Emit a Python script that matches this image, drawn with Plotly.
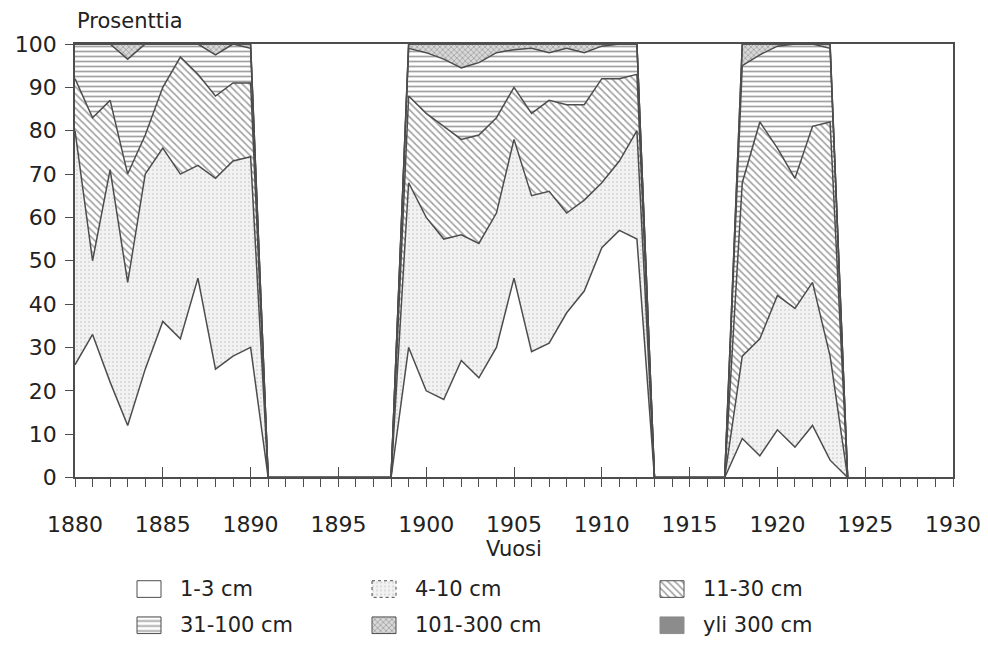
import plotly.graph_objects as go

# Share of each size class (%) per year; years without data are zero
years = list(range(1880, 1925))

cm_1_3 = [26, 33, 22, 12, 25, 36, 32, 46, 25, 28, 30,            # 1880-1890
          0, 0, 0, 0, 0, 0, 0, 0,                                # 1891-1898
          30, 20, 18, 27, 23, 30, 46, 29, 31, 38, 43, 53, 57, 55,  # 1899-1912
          0, 0, 0, 0, 0,                                         # 1913-1917
          9, 5, 11, 7, 12, 4,                                    # 1918-1923
          0]                                                     # 1924
cm_4_10 = [54, 17, 49, 33, 45, 40, 38, 26, 44, 45, 44,
           0, 0, 0, 0, 0, 0, 0, 0,
           38, 40, 37, 29, 31, 31, 32, 36, 35, 23, 21, 15, 16, 25,
           0, 0, 0, 0, 0,
           19, 27, 31, 32, 33, 24,
           0]
cm_11_30 = [12, 33, 16, 25, 9, 14, 27, 21, 19, 18, 17,
            0, 0, 0, 0, 0, 0, 0, 0,
            20, 24, 26, 22, 25, 22, 12, 19, 21, 25, 22, 24, 19, 13,
            0, 0, 0, 0, 0,
            40, 50, 34, 30, 36, 54,
            0]
cm_31_100 = [8, 17, 13, 26.5, 21, 10, 3, 7, 9.5, 9, 8,
             0, 0, 0, 0, 0, 0, 0, 0,
             11, 14, 15.5, 16.5, 16.7, 15, 8.7, 15, 11, 13, 12, 7.5, 8, 7,
             0, 0, 0, 0, 0,
             27, 15.5, 23.5, 31, 19, 17,
             0]
cm_101_300 = [0, 0, 0, 3.5, 0, 0, 0, 0, 2.5, 0, 1,
              0, 0, 0, 0, 0, 0, 0, 0,
              1, 2, 3.5, 5.5, 4.3, 2, 1.3, 1, 2, 1, 2, 0.5, 0, 0,
              0, 0, 0, 0, 0,
              5, 2.5, 0.5, 0, 0, 1,
              0]
cm_over_300 = [0] * len(years)

class_labels = ["1-3 cm", "4-10 cm", "11-30 cm", "31-100 cm", "101-300 cm", "yli 300 cm"]
class_values = [cm_1_3, cm_4_10, cm_11_30, cm_31_100, cm_101_300, cm_over_300]

x_ticks = list(range(1880, 1931, 5))
y_ticks = list(range(0, 101, 10))

FONT = "DejaVu Sans"
INK = "#222222"
LINE = "#4d4d4d"

# fill style for each class
fills = [
    dict(shape="", bgcolor="white", fgcolor="white"),
    dict(shape=".", fgcolor="#b5b5b5", bgcolor="#f2f2f2", size=4, solidity=0.18),
    dict(shape="\\", fgcolor="#444444", bgcolor="white", size=5, solidity=0.34),
    dict(shape="-", fgcolor="#444444", bgcolor="white", size=5, solidity=0.34),
    dict(shape="x", fgcolor="#4a4a4a", bgcolor="#d8d8d8", size=4, solidity=0.3),
    dict(shape="", bgcolor="#8c8c8c", fgcolor="#8c8c8c"),
]
solid_fill = ["white", None, None, None, None, "#8c8c8c"]

fig = go.Figure()

for label, vals, fp, sf in zip(class_labels, class_values, fills, solid_fill):
    kw = dict(fillpattern=fp) if fp["shape"] else dict(fillcolor=sf)
    fig.add_trace(go.Scatter(
        x=years, y=vals, name=label, stackgroup="one", mode="lines",
        line=dict(color=LINE, width=1.5), hoverinfo="x+y+name", **kw))

# carrier trace so the overlay axis with the long year ticks is drawn
fig.add_trace(go.Scatter(x=[1880, 1930], y=[None, None], xaxis="x2", yaxis="y",
                         showlegend=False, hoverinfo="skip", mode="lines"))

# legend drawn as swatches in its own small axes below the chart
leg_cols = [137, 372, 660]
leg_rows = [601, 638]
sw_w, sw_h = 24, 17
annotations = []
for i, (label, fp, sf) in enumerate(zip(class_labels, fills, solid_fill)):
    cx = leg_cols[i % 3]
    cy = leg_rows[i // 3]
    x0, x1 = cx, cx + sw_w
    y0, y1 = cy - sw_h / 2, cy + sw_h / 2
    kw = dict(fillpattern=fp) if fp["shape"] else dict(fillcolor=sf)
    border = LINE if i != 5 else "#8c8c8c"
    fig.add_trace(go.Scatter(
        x=[x0, x1, x1, x0, x0], y=[y0, y0, y1, y1, y0], fill="toself",
        mode="lines", line=dict(color=border, width=1,
                                dash="dot" if i == 1 else "solid"),
        xaxis="x3", yaxis="y3", showlegend=False, hoverinfo="skip", **kw))
    annotations.append(dict(x=x1 + 17, y=cy, xref="x3", yref="y3", text=label,
                            showarrow=False, xanchor="left", yanchor="middle",
                            font=dict(family=FONT, size=21, color=INK)))

annotations += [
    dict(x=0, y=1.0396, xref="paper", yref="paper", text="Prosenttia",
         showarrow=False, xanchor="left", yanchor="middle",
         font=dict(family=FONT, size=21, color=INK)),
    dict(x=0.5, y=0.1485, xref="paper", yref="paper", text="Vuosi",
         showarrow=False, xanchor="center", yanchor="middle",
         font=dict(family=FONT, size=21, color=INK)),
]

top, bottom_px, height = 44, 4, 654
plot_h = height - top - bottom_px
y_dom0 = (height - bottom_px - 487) / plot_h
leg_dom1 = (height - bottom_px - 580) / plot_h

fig.update_layout(
    width=988, height=height,
    margin=dict(l=75, r=35, t=top, b=bottom_px, pad=0),
    paper_bgcolor="white", plot_bgcolor="white",
    showlegend=False,
    font=dict(family=FONT, size=22, color=INK),
    xaxis=dict(range=[1880, 1930], domain=[0, 1], anchor="y",
               tickmode="array", tickvals=x_ticks, ticktext=[str(v) for v in x_ticks],
               ticks="outside", ticklen=8, tickwidth=1.3, tickcolor=LINE,
               ticklabelstandoff=18,
               minor=dict(dtick=1, tick0=1880, ticks="outside", ticklen=8,
                          tickwidth=1.2, tickcolor=LINE),
               showline=True, linecolor=LINE, linewidth=1.5, mirror=True,
               showgrid=False, zeroline=False,
               tickfont=dict(family=FONT, size=22, color=INK)),
    xaxis2=dict(range=[1880, 1930], overlaying="x", anchor="y", side="bottom",
                tickmode="array", tickvals=x_ticks, ticks="inside", ticklen=10,
                tickwidth=1.3, tickcolor=LINE, showticklabels=False,
                showline=False, showgrid=False, zeroline=False),
    yaxis=dict(range=[0, 100], domain=[y_dom0, 1], anchor="x",
               tickmode="array", tickvals=y_ticks,
               ticks="outside", ticklen=8, tickwidth=1.3, tickcolor=LINE,
               ticklabelstandoff=4,
               showline=True, linecolor=LINE, linewidth=1.5, mirror=True,
               showgrid=False, zeroline=False,
               tickfont=dict(family=FONT, size=22, color=INK)),
    xaxis3=dict(range=[75, 953], domain=[0, 1], anchor="y3", visible=False,
                fixedrange=True),
    yaxis3=dict(range=[height - bottom_px, 580], domain=[0, leg_dom1], anchor="x3",
                visible=False, fixedrange=True),
    annotations=annotations,
)

fig.write_html("out.html")
